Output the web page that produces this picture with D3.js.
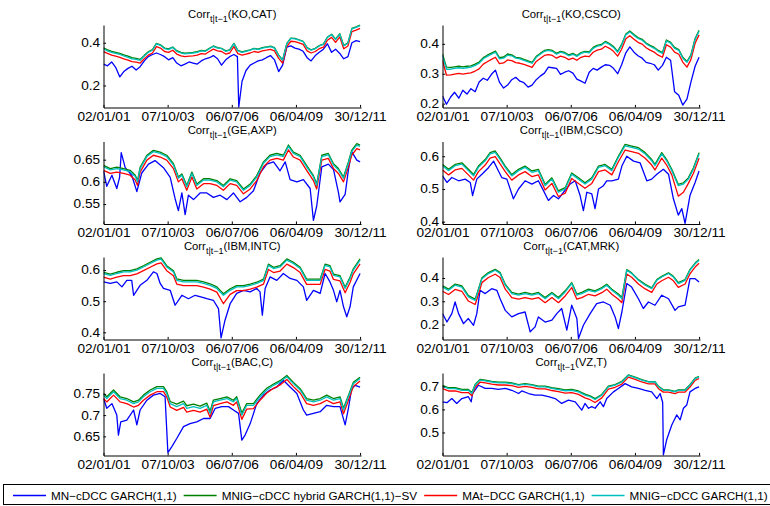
<!DOCTYPE html>
<html>
<head>
<meta charset="utf-8">
<script src="https://cdn.jsdelivr.net/npm/d3@7"></script>
<style>
  html, body { margin: 0; padding: 0; background: #fff; }
  svg { display: block; font-family: "Liberation Sans", Arial, Helvetica, sans-serif; }
</style>
</head>
<body>
<svg id="chart" width="770" height="506"></svg>
<script>
// ---- x axis: sample period in decimal years, ticks every quarter of the sample ----
const TICK_YEARS  = [2001.0, 2003.75, 2006.5, 2009.25, 2012.0];
const TICK_LABELS = ["02/01/01", "07/10/03", "06/07/06", "06/04/09", "30/12/11"];

const SERIES_NAMES = ["MN\u2212cDCC GARCH(1,1)", "MNIG\u2212cDCC hybrid GARCH(1,1)\u2212SV",
                      "MAt\u2212DCC GARCH(1,1)", "MNIG\u2212cDCC GARCH(1,1)"];
const PAIRS = ["KO,CAT", "KO,CSCO", "GE,AXP", "IBM,CSCO", "IBM,INTC", "CAT,MRK", "BAC,C", "VZ,T"];

// y-axis ranges and tick values per pair
const Y_DOMAINS = [[0.097, 0.483], [0.187, 0.463], [0.505, 0.691], [0.393, 0.645],
                   [0.377, 0.642], [0.136, 0.490], [0.605, 0.799], [0.400, 0.758]];
const Y_TICKS = [[0.2, 0.4], [0.2, 0.3, 0.4], [0.55, 0.6, 0.65], [0.4, 0.5, 0.6],
                 [0.4, 0.5, 0.6], [0.2, 0.3, 0.4], [0.65, 0.7, 0.75], [0.5, 0.6, 0.7]];

// ---- regular sampling dates (decimal years) ----
const SAMPLE_GRID = [2001.00,2001.17,2001.35,2001.52,2001.70,2001.87,2002.05,2002.22,2002.40,2002.57,
  2002.75,2002.92,2003.10,2003.27,2003.44,2003.62,2003.79,2003.97,2004.14,2004.32,
  2004.49,2004.67,2004.84,2005.02,2005.19,2005.37,2005.54,2005.71,2005.89,2006.06,
  2006.24,2006.41,2006.59,2006.76,2006.94,2007.11,2007.29,2007.46,2007.63,2007.81,
  2007.98,2008.16,2008.33,2008.51,2008.68,2008.86,2009.03,2009.21,2009.38,2009.56,
  2009.73,2009.90,2010.08,2010.25,2010.43,2010.60,2010.78,2010.95,2011.13,2011.30,
  2011.48,2011.65,2011.83,2012.00];

// ---- KO,CAT ----
const KO_CAT_MNIG = [0.372,0.362,0.355,0.350,0.345,0.338,0.332,0.325,0.322,0.318,0.338,0.355,0.365,0.395,0.388,0.372,0.368,0.378,0.360,0.352,0.348,0.350,0.352,0.355,0.362,0.360,0.372,0.383,0.375,0.372,0.360,0.365,0.395,0.362,0.355,0.360,0.365,0.372,0.368,0.375,0.378,0.382,0.375,0.340,0.318,0.395,0.420,0.418,0.412,0.405,0.375,0.365,0.372,0.385,0.392,0.425,0.438,0.415,0.440,0.385,0.398,0.465,0.472,0.480];
const KO_CAT_HYB = [0.376,0.367,0.360,0.355,0.350,0.343,0.337,0.330,0.327,0.322,0.341,0.358,0.368,0.397,0.390,0.375,0.371,0.380,0.363,0.355,0.351,0.353,0.355,0.358,0.364,0.362,0.374,0.385,0.377,0.374,0.362,0.367,0.397,0.364,0.357,0.362,0.367,0.374,0.370,0.377,0.380,0.384,0.377,0.342,0.320,0.397,0.422,0.420,0.414,0.407,0.377,0.367,0.374,0.387,0.394,0.427,0.440,0.417,0.442,0.387,0.400,0.467,0.474,0.482];
const KO_CAT_MAT = [0.358,0.350,0.342,0.337,0.332,0.325,0.319,0.312,0.309,0.305,0.325,0.342,0.352,0.382,0.375,0.359,0.355,0.365,0.347,0.339,0.335,0.337,0.339,0.342,0.349,0.347,0.359,0.370,0.362,0.359,0.347,0.352,0.382,0.349,0.342,0.347,0.352,0.359,0.355,0.362,0.365,0.369,0.362,0.327,0.305,0.382,0.407,0.405,0.399,0.392,0.362,0.352,0.359,0.372,0.379,0.412,0.425,0.402,0.427,0.372,0.385,0.452,0.459,0.467];
const KO_CAT_MN_T = [2001.00,2001.17,2001.35,2001.52,2001.70,2001.87,2002.05,2002.22,2002.40,2002.57,
  2002.75,2002.92,2003.10,2003.27,2003.44,2003.62,2003.79,2003.97,2004.14,2004.32,
  2004.49,2004.67,2004.84,2005.02,2005.19,2005.37,2005.54,2005.71,2005.89,2006.06,
  2006.24,2006.41,2006.59,2006.74,2006.80,2006.94,2007.11,2007.29,2007.46,2007.63,2007.81,
  2007.98,2008.16,2008.33,2008.51,2008.68,2008.86,2009.03,2009.21,2009.38,2009.56,
  2009.73,2009.90,2010.08,2010.25,2010.43,2010.60,2010.78,2010.95,2011.13,2011.30,
  2011.48,2011.65,2011.83,2012.00];
const KO_CAT_MN = [0.300,0.292,0.310,0.285,0.240,0.265,0.280,0.290,0.272,0.288,0.315,0.335,0.345,0.352,0.345,0.335,0.320,0.330,0.305,0.292,0.300,0.310,0.305,0.300,0.315,0.325,0.330,0.340,0.325,0.295,0.320,0.335,0.345,0.335,0.100,0.220,0.270,0.295,0.305,0.315,0.320,0.330,0.340,0.320,0.265,0.295,0.380,0.385,0.375,0.370,0.360,0.330,0.315,0.340,0.355,0.370,0.395,0.355,0.370,0.350,0.325,0.335,0.400,0.410,0.405];

// ---- KO,CSCO ----
const KO_CSCO_MNIG = [0.360,0.315,0.315,0.318,0.320,0.318,0.320,0.322,0.328,0.335,0.350,0.358,0.365,0.372,0.350,0.352,0.362,0.360,0.352,0.350,0.345,0.340,0.335,0.355,0.365,0.375,0.378,0.375,0.365,0.372,0.368,0.360,0.365,0.358,0.368,0.372,0.370,0.385,0.392,0.395,0.405,0.398,0.388,0.372,0.395,0.430,0.440,0.428,0.418,0.412,0.400,0.392,0.385,0.375,0.368,0.410,0.402,0.385,0.378,0.352,0.338,0.360,0.415,0.442];
const KO_CSCO_HYB = [0.366,0.322,0.321,0.323,0.325,0.323,0.325,0.326,0.332,0.339,0.354,0.362,0.369,0.376,0.354,0.356,0.366,0.363,0.355,0.353,0.348,0.343,0.338,0.358,0.368,0.378,0.381,0.378,0.368,0.375,0.371,0.363,0.368,0.361,0.371,0.375,0.373,0.388,0.395,0.398,0.408,0.401,0.391,0.375,0.398,0.433,0.443,0.431,0.421,0.415,0.403,0.395,0.388,0.378,0.371,0.413,0.405,0.388,0.381,0.355,0.341,0.363,0.418,0.445];
const KO_CSCO_MAT = [0.345,0.295,0.296,0.299,0.301,0.299,0.301,0.303,0.309,0.316,0.332,0.340,0.348,0.355,0.334,0.336,0.346,0.344,0.337,0.335,0.331,0.326,0.321,0.341,0.351,0.361,0.364,0.361,0.352,0.359,0.355,0.347,0.352,0.345,0.355,0.359,0.357,0.372,0.379,0.382,0.392,0.385,0.375,0.359,0.382,0.417,0.427,0.415,0.405,0.399,0.387,0.379,0.372,0.362,0.355,0.397,0.389,0.372,0.365,0.339,0.322,0.347,0.402,0.430];
const KO_CSCO_MN = [0.225,0.198,0.222,0.238,0.218,0.245,0.232,0.250,0.240,0.272,0.285,0.278,0.298,0.312,0.272,0.252,0.262,0.280,0.288,0.275,0.270,0.255,0.262,0.280,0.292,0.302,0.322,0.320,0.318,0.298,0.305,0.310,0.302,0.282,0.275,0.268,0.305,0.318,0.312,0.322,0.330,0.328,0.318,0.300,0.330,0.370,0.390,0.372,0.360,0.352,0.338,0.335,0.330,0.312,0.328,0.355,0.345,0.240,0.228,0.195,0.215,0.272,0.325,0.355];

// ---- GE,AXP ----
const GE_AXP_T = [2001.00,2001.29,2001.57,2001.86,2002.14,2002.36,2002.46,2002.57,2002.86,2003.14,2003.43,2003.71,2004.00,2004.21,2004.36,2004.57,2004.79,2005.00,2005.29,2005.57,2005.86,2006.14,2006.43,2006.71,2007.00,2007.29,2007.57,2007.86,2008.14,2008.43,2008.71,2008.93,2009.14,2009.43,2009.71,2010.00,2010.14,2010.36,2010.64,2010.86,2011.07,2011.29,2011.50,2011.64,2011.86,2012.00];
const GE_AXP_MNIG = [0.634,0.627,0.630,0.627,0.623,0.612,0.600,0.630,0.657,0.668,0.664,0.657,0.638,0.608,0.615,0.589,0.619,0.592,0.604,0.604,0.600,0.589,0.604,0.600,0.581,0.592,0.611,0.642,0.657,0.661,0.657,0.680,0.664,0.657,0.634,0.611,0.592,0.657,0.661,0.638,0.627,0.608,0.642,0.668,0.683,0.680];
const GE_AXP_HYB = [0.637,0.630,0.633,0.630,0.626,0.615,0.603,0.633,0.660,0.671,0.667,0.660,0.641,0.611,0.618,0.592,0.622,0.595,0.607,0.607,0.603,0.592,0.607,0.603,0.584,0.595,0.614,0.645,0.660,0.664,0.660,0.683,0.667,0.660,0.637,0.614,0.595,0.660,0.664,0.641,0.630,0.611,0.645,0.671,0.686,0.683];
const GE_AXP_MAT = [0.626,0.619,0.622,0.619,0.615,0.604,0.592,0.622,0.649,0.660,0.656,0.649,0.630,0.600,0.607,0.581,0.611,0.584,0.596,0.596,0.592,0.581,0.596,0.592,0.573,0.584,0.603,0.634,0.649,0.653,0.649,0.672,0.656,0.649,0.626,0.603,0.584,0.649,0.653,0.630,0.619,0.600,0.634,0.660,0.675,0.672];
const GE_AXP_MN_T = [2001.00,2001.14,2001.36,2001.57,2001.69,2001.76,2001.93,2002.21,2002.43,2002.64,2002.93,2003.21,2003.57,2003.86,2004.07,2004.21,2004.36,2004.50,2004.64,2004.86,2005.14,2005.43,2005.71,2006.00,2006.29,2006.57,2006.86,2007.14,2007.43,2007.71,2008.00,2008.29,2008.57,2008.79,2009.00,2009.29,2009.57,2009.86,2010.00,2010.14,2010.36,2010.64,2010.86,2011.07,2011.14,2011.36,2011.50,2011.64,2011.86,2012.00];
const GE_AXP_MN = [0.625,0.590,0.615,0.585,0.610,0.666,0.632,0.615,0.578,0.620,0.640,0.648,0.632,0.610,0.562,0.535,0.575,0.526,0.570,0.560,0.575,0.575,0.565,0.570,0.560,0.575,0.555,0.565,0.580,0.620,0.640,0.645,0.625,0.645,0.605,0.600,0.605,0.585,0.513,0.545,0.634,0.640,0.628,0.577,0.555,0.572,0.627,0.668,0.649,0.645];

// ---- IBM,CSCO ----
const IBM_CSCO_T = [2001.00,2001.26,2001.54,2001.83,2002.11,2002.33,2002.54,2002.83,2003.04,2003.26,2003.47,2003.69,2003.97,2004.26,2004.54,2004.83,2005.11,2005.40,2005.69,2005.97,2006.26,2006.54,2006.83,2007.11,2007.40,2007.69,2007.97,2008.26,2008.54,2008.83,2009.11,2009.40,2009.69,2009.97,2010.11,2010.40,2010.61,2010.83,2011.11,2011.33,2011.54,2011.76,2012.00];
const IBM_CSCO_MNIG = [0.571,0.556,0.571,0.576,0.556,0.540,0.566,0.586,0.607,0.612,0.590,0.566,0.540,0.556,0.566,0.551,0.556,0.510,0.530,0.490,0.500,0.545,0.530,0.515,0.530,0.566,0.571,0.556,0.596,0.632,0.627,0.622,0.607,0.586,0.571,0.607,0.586,0.556,0.510,0.515,0.530,0.561,0.607];
const IBM_CSCO_HYB = [0.575,0.560,0.575,0.580,0.560,0.544,0.570,0.590,0.611,0.616,0.594,0.570,0.544,0.560,0.570,0.555,0.560,0.514,0.534,0.494,0.504,0.549,0.534,0.519,0.534,0.570,0.575,0.560,0.600,0.636,0.631,0.626,0.611,0.590,0.575,0.611,0.590,0.560,0.514,0.519,0.534,0.565,0.611];
const IBM_CSCO_MAT = [0.558,0.543,0.558,0.563,0.543,0.527,0.553,0.573,0.594,0.599,0.577,0.553,0.527,0.543,0.553,0.538,0.543,0.497,0.517,0.477,0.487,0.532,0.517,0.502,0.517,0.553,0.558,0.543,0.583,0.619,0.614,0.609,0.594,0.573,0.558,0.594,0.573,0.543,0.478,0.490,0.517,0.548,0.594];
const IBM_CSCO_MN_T = [2001.00,2001.19,2001.40,2001.69,2001.97,2002.19,2002.29,2002.47,2002.69,2002.97,2003.19,2003.40,2003.54,2003.76,2004.04,2004.26,2004.54,2004.83,2005.11,2005.33,2005.54,2005.76,2005.97,2006.19,2006.47,2006.69,2006.90,2007.04,2007.19,2007.40,2007.54,2007.69,2007.90,2008.04,2008.26,2008.54,2008.69,2008.90,2009.19,2009.47,2009.76,2009.97,2010.19,2010.47,2010.69,2010.90,2011.11,2011.26,2011.40,2011.61,2011.83,2012.00];
const IBM_CSCO_MN = [0.540,0.520,0.535,0.525,0.530,0.520,0.480,0.530,0.545,0.565,0.585,0.555,0.535,0.530,0.470,0.500,0.525,0.515,0.525,0.495,0.465,0.480,0.470,0.490,0.515,0.525,0.480,0.434,0.490,0.485,0.440,0.500,0.510,0.525,0.525,0.530,0.570,0.600,0.585,0.580,0.525,0.530,0.545,0.560,0.545,0.470,0.420,0.440,0.395,0.480,0.520,0.555];

// ---- IBM,INTC ----
const IBM_INTC_T = [2001.00,2001.29,2001.57,2001.86,2002.14,2002.43,2002.71,2003.00,2003.29,2003.47,2003.71,2004.00,2004.14,2004.43,2004.71,2005.00,2005.29,2005.57,2005.86,2006.14,2006.43,2006.71,2007.00,2007.29,2007.57,2007.86,2008.07,2008.29,2008.57,2008.86,2009.14,2009.43,2009.71,2010.00,2010.29,2010.50,2010.71,2010.86,2011.14,2011.36,2011.57,2011.71,2012.00];
const IBM_INTC_MNIG = [0.589,0.583,0.589,0.594,0.594,0.600,0.610,0.621,0.632,0.635,0.610,0.594,0.567,0.562,0.562,0.562,0.557,0.551,0.541,0.519,0.535,0.546,0.546,0.551,0.557,0.567,0.615,0.605,0.610,0.632,0.621,0.605,0.567,0.567,0.567,0.615,0.610,0.583,0.578,0.541,0.573,0.600,0.632];
const IBM_INTC_HYB = [0.593,0.587,0.593,0.598,0.598,0.604,0.614,0.625,0.636,0.639,0.614,0.598,0.572,0.567,0.567,0.567,0.562,0.556,0.546,0.524,0.540,0.550,0.550,0.555,0.561,0.571,0.619,0.609,0.614,0.636,0.625,0.609,0.571,0.571,0.571,0.619,0.614,0.587,0.582,0.545,0.577,0.604,0.636];
const IBM_INTC_MAT = [0.577,0.571,0.577,0.582,0.582,0.588,0.598,0.609,0.620,0.623,0.598,0.582,0.555,0.550,0.550,0.550,0.545,0.539,0.529,0.492,0.522,0.534,0.534,0.539,0.545,0.555,0.602,0.592,0.597,0.619,0.608,0.592,0.554,0.554,0.554,0.602,0.597,0.570,0.565,0.527,0.560,0.588,0.620];
const IBM_INTC_MN_T = [2001.00,2001.29,2001.57,2001.79,2002.00,2002.21,2002.29,2002.57,2002.86,2003.14,2003.29,2003.43,2003.57,2003.86,2004.07,2004.36,2004.64,2004.93,2005.21,2005.43,2005.71,2005.93,2006.04,2006.21,2006.43,2006.71,2007.00,2007.29,2007.57,2007.71,2007.81,2007.93,2008.14,2008.43,2008.71,2009.00,2009.29,2009.57,2009.71,2010.00,2010.29,2010.50,2010.71,2010.86,2011.00,2011.14,2011.29,2011.43,2011.57,2011.71,2012.00];
const IBM_INTC_MN = [0.562,0.557,0.562,0.546,0.567,0.567,0.519,0.551,0.567,0.594,0.589,0.557,0.541,0.535,0.487,0.519,0.508,0.519,0.513,0.508,0.503,0.476,0.382,0.439,0.492,0.525,0.535,0.530,0.541,0.530,0.455,0.541,0.578,0.567,0.589,0.573,0.567,0.546,0.503,0.535,0.525,0.589,0.562,0.535,0.498,0.535,0.482,0.450,0.482,0.546,0.589];

// ---- CAT,MRK ----
const CAT_MRK_T = [2001.00,2001.26,2001.54,2001.83,2002.11,2002.40,2002.54,2002.69,2002.97,2003.26,2003.47,2003.69,2003.97,2004.26,2004.54,2004.83,2005.11,2005.40,2005.69,2005.97,2006.26,2006.54,2006.76,2006.97,2007.26,2007.54,2007.83,2008.04,2008.26,2008.54,2008.69,2008.90,2009.11,2009.40,2009.69,2009.97,2010.19,2010.40,2010.69,2010.90,2011.11,2011.40,2011.61,2011.83,2012.00];
const CAT_MRK_MNIG = [0.361,0.347,0.369,0.361,0.319,0.304,0.347,0.397,0.419,0.433,0.419,0.369,0.333,0.326,0.333,0.326,0.333,0.311,0.333,0.311,0.340,0.376,0.326,0.333,0.347,0.340,0.354,0.369,0.347,0.326,0.311,0.433,0.419,0.390,0.369,0.354,0.390,0.404,0.419,0.404,0.376,0.390,0.433,0.461,0.476];
const CAT_MRK_HYB = [0.366,0.352,0.374,0.366,0.324,0.309,0.352,0.401,0.423,0.437,0.423,0.373,0.338,0.331,0.338,0.331,0.338,0.316,0.338,0.316,0.345,0.380,0.331,0.338,0.352,0.345,0.359,0.373,0.352,0.331,0.316,0.436,0.422,0.393,0.373,0.358,0.393,0.407,0.422,0.407,0.380,0.393,0.436,0.464,0.479];
const CAT_MRK_MAT = [0.343,0.329,0.351,0.343,0.301,0.286,0.329,0.380,0.402,0.416,0.402,0.352,0.316,0.309,0.316,0.309,0.316,0.294,0.316,0.294,0.323,0.359,0.309,0.316,0.330,0.323,0.337,0.352,0.330,0.309,0.294,0.417,0.403,0.374,0.353,0.338,0.374,0.388,0.403,0.388,0.360,0.374,0.418,0.447,0.463];
const CAT_MRK_MN_T = [2001.00,2001.19,2001.40,2001.54,2001.69,2001.90,2002.11,2002.33,2002.47,2002.61,2002.83,2003.11,2003.33,2003.47,2003.69,2003.97,2004.26,2004.54,2004.76,2004.97,2005.11,2005.40,2005.69,2005.90,2006.11,2006.33,2006.54,2006.76,2006.83,2007.04,2007.33,2007.61,2007.90,2008.19,2008.40,2008.54,2008.69,2008.90,2009.11,2009.40,2009.61,2009.83,2010.11,2010.40,2010.69,2010.97,2011.11,2011.40,2011.61,2011.83,2012.00];
const CAT_MRK_MN = [0.247,0.211,0.247,0.297,0.247,0.204,0.226,0.197,0.247,0.347,0.333,0.354,0.347,0.311,0.261,0.233,0.247,0.254,0.169,0.190,0.233,0.211,0.219,0.247,0.269,0.176,0.283,0.226,0.140,0.197,0.247,0.290,0.297,0.283,0.233,0.183,0.254,0.376,0.361,0.311,0.269,0.297,0.283,0.326,0.311,0.261,0.276,0.283,0.397,0.397,0.383];

// ---- BAC,C ----
const BAC_C_T = [2001.00,2001.14,2001.43,2001.71,2002.00,2002.29,2002.50,2002.71,2003.00,2003.29,2003.57,2003.71,2003.86,2004.14,2004.43,2004.57,2004.86,2005.14,2005.43,2005.57,2005.71,2006.00,2006.29,2006.57,2006.71,2006.93,2007.14,2007.43,2007.71,2008.00,2008.29,2008.57,2008.86,2009.14,2009.43,2009.71,2010.00,2010.29,2010.57,2010.86,2011.14,2011.29,2011.50,2011.71,2012.00];
const BAC_C_MNIG = [0.747,0.739,0.755,0.739,0.735,0.727,0.731,0.743,0.755,0.763,0.763,0.751,0.727,0.720,0.727,0.716,0.720,0.716,0.723,0.704,0.731,0.735,0.739,0.731,0.739,0.700,0.723,0.723,0.743,0.759,0.770,0.778,0.790,0.774,0.759,0.735,0.731,0.735,0.743,0.735,0.739,0.712,0.743,0.774,0.786];
const BAC_C_HYB = [0.751,0.743,0.759,0.743,0.739,0.731,0.735,0.747,0.759,0.767,0.767,0.755,0.732,0.726,0.733,0.722,0.726,0.721,0.728,0.709,0.735,0.739,0.743,0.735,0.743,0.705,0.727,0.727,0.747,0.763,0.773,0.781,0.793,0.777,0.762,0.739,0.735,0.739,0.747,0.739,0.743,0.716,0.746,0.777,0.789];
const BAC_C_MAT = [0.739,0.731,0.747,0.731,0.727,0.719,0.723,0.735,0.747,0.755,0.755,0.743,0.719,0.711,0.718,0.707,0.711,0.707,0.714,0.695,0.722,0.727,0.731,0.723,0.731,0.690,0.714,0.715,0.735,0.752,0.763,0.771,0.784,0.767,0.752,0.727,0.723,0.727,0.735,0.727,0.731,0.703,0.735,0.767,0.780];
const BAC_C_MN_T = [2001.00,2001.14,2001.36,2001.57,2001.64,2001.74,2002.00,2002.29,2002.43,2002.57,2002.86,2003.14,2003.43,2003.64,2003.76,2003.93,2004.14,2004.43,2004.71,2005.00,2005.29,2005.57,2005.79,2006.07,2006.36,2006.57,2006.79,2006.93,2007.07,2007.29,2007.57,2007.86,2008.14,2008.43,2008.71,2009.00,2009.29,2009.57,2009.71,2010.00,2010.29,2010.57,2010.86,2011.14,2011.36,2011.50,2011.64,2011.79,2012.00];
const BAC_C_MN = [0.739,0.716,0.727,0.700,0.653,0.684,0.688,0.712,0.677,0.712,0.735,0.747,0.751,0.743,0.612,0.626,0.645,0.673,0.680,0.684,0.692,0.692,0.716,0.720,0.720,0.712,0.704,0.641,0.653,0.680,0.727,0.747,0.759,0.766,0.782,0.766,0.751,0.712,0.700,0.704,0.708,0.723,0.720,0.720,0.677,0.716,0.762,0.770,0.766];

// ---- VZ,T ----
const VZ_T_T = [2001.00,2001.26,2001.54,2001.83,2002.11,2002.26,2002.40,2002.61,2002.83,2003.11,2003.40,2003.69,2003.97,2004.26,2004.54,2004.83,2005.11,2005.40,2005.69,2005.97,2006.26,2006.54,2006.83,2007.11,2007.33,2007.54,2007.83,2008.11,2008.40,2008.69,2008.97,2009.26,2009.54,2009.83,2010.11,2010.26,2010.47,2010.69,2010.97,2011.11,2011.40,2011.61,2011.83,2012.00];
const VZ_T_MNIG = [0.700,0.690,0.690,0.683,0.683,0.669,0.705,0.727,0.724,0.719,0.715,0.715,0.712,0.705,0.709,0.705,0.698,0.698,0.691,0.686,0.681,0.683,0.676,0.662,0.655,0.643,0.662,0.698,0.705,0.719,0.748,0.738,0.727,0.719,0.719,0.698,0.683,0.683,0.676,0.683,0.683,0.705,0.734,0.741];
const VZ_T_HYB = [0.704,0.694,0.694,0.687,0.687,0.673,0.708,0.730,0.727,0.722,0.718,0.718,0.715,0.708,0.712,0.708,0.701,0.701,0.694,0.690,0.685,0.687,0.680,0.666,0.659,0.647,0.665,0.701,0.708,0.722,0.750,0.740,0.729,0.721,0.721,0.700,0.685,0.685,0.678,0.685,0.685,0.707,0.736,0.743];
const VZ_T_MAT = [0.690,0.680,0.680,0.673,0.673,0.659,0.696,0.718,0.715,0.710,0.706,0.706,0.703,0.696,0.700,0.696,0.689,0.689,0.682,0.677,0.671,0.673,0.665,0.650,0.642,0.630,0.650,0.688,0.696,0.710,0.740,0.730,0.719,0.711,0.711,0.690,0.675,0.675,0.668,0.675,0.675,0.697,0.726,0.734];
const VZ_T_MN_T = [2001.00,2001.19,2001.40,2001.61,2001.83,2002.11,2002.23,2002.29,2002.54,2002.83,2003.11,2003.40,2003.69,2003.97,2004.26,2004.40,2004.69,2004.97,2005.26,2005.54,2005.83,2006.11,2006.40,2006.69,2006.97,2007.11,2007.26,2007.40,2007.54,2007.76,2007.90,2008.04,2008.33,2008.54,2008.83,2009.11,2009.40,2009.69,2009.97,2010.19,2010.33,2010.44,2010.47,2010.61,2010.83,2011.04,2011.19,2011.33,2011.47,2011.61,2011.83,2012.00];
const VZ_T_MN = [0.633,0.629,0.647,0.626,0.647,0.655,0.633,0.669,0.705,0.691,0.691,0.687,0.691,0.683,0.669,0.680,0.669,0.662,0.662,0.655,0.647,0.626,0.640,0.633,0.597,0.626,0.605,0.612,0.605,0.633,0.612,0.647,0.676,0.691,0.712,0.698,0.691,0.683,0.676,0.647,0.669,0.630,0.403,0.468,0.532,0.576,0.555,0.605,0.619,0.676,0.691,0.698];

// ---- assemble panels (row-major, two columns) ----
const panels = [
  { mnT: KO_CAT_MN_T,   mn: KO_CAT_MN,   t: SAMPLE_GRID, hyb: KO_CAT_HYB,   mat: KO_CAT_MAT,   mnig: KO_CAT_MNIG },
  { mnT: SAMPLE_GRID,   mn: KO_CSCO_MN,  t: SAMPLE_GRID, hyb: KO_CSCO_HYB,  mat: KO_CSCO_MAT,  mnig: KO_CSCO_MNIG },
  { mnT: GE_AXP_MN_T,   mn: GE_AXP_MN,   t: GE_AXP_T,    hyb: GE_AXP_HYB,   mat: GE_AXP_MAT,   mnig: GE_AXP_MNIG },
  { mnT: IBM_CSCO_MN_T, mn: IBM_CSCO_MN, t: IBM_CSCO_T,  hyb: IBM_CSCO_HYB, mat: IBM_CSCO_MAT, mnig: IBM_CSCO_MNIG },
  { mnT: IBM_INTC_MN_T, mn: IBM_INTC_MN, t: IBM_INTC_T,  hyb: IBM_INTC_HYB, mat: IBM_INTC_MAT, mnig: IBM_INTC_MNIG },
  { mnT: CAT_MRK_MN_T,  mn: CAT_MRK_MN,  t: CAT_MRK_T,   hyb: CAT_MRK_HYB,  mat: CAT_MRK_MAT,  mnig: CAT_MRK_MNIG },
  { mnT: BAC_C_MN_T,    mn: BAC_C_MN,    t: BAC_C_T,     hyb: BAC_C_HYB,    mat: BAC_C_MAT,    mnig: BAC_C_MNIG },
  { mnT: VZ_T_MN_T,     mn: VZ_T_MN,     t: VZ_T_T,      hyb: VZ_T_HYB,     mat: VZ_T_MAT,     mnig: VZ_T_MNIG }
];

// ---- layout & style ----
const COLORS = ["#0000ff", "#008000", "#ff0000", "#00bfbf"];
const X_DOMAIN = [2001.0, 2012.04];
const COL_X = [[103.5, 361], [442.5, 700]];
const ROW_TOP = [25, 141.5, 257, 373];
const PANEL_H = 82.5;
const TICK_FONT = 12.2, TICK_STRETCH = 1.12;

const svg = d3.select("#chart");
svg.append("rect").attr("width", 770).attr("height", 506).attr("fill", "#fff");

panels.forEach((p, i) => {
  const col = i % 2, row = Math.floor(i / 2);
  const [left, right] = COL_X[col];
  const top = ROW_TOP[row], bottom = top + PANEL_H;

  const x = d3.scaleLinear().domain(X_DOMAIN).range([left, right]);
  const y = d3.scaleLinear().domain(Y_DOMAINS[i]).range([bottom, top]);

  const clipId = "plot-clip-" + i;
  svg.append("clipPath").attr("id", clipId)
    .append("rect").attr("x", left).attr("y", top - 2)
    .attr("width", right - left + 2).attr("height", PANEL_H + 4);

  const g = svg.append("g");
  const plot = g.append("g").attr("clip-path", `url(#${clipId})`);
  const line = d3.line().x(d => x(d[0])).y(d => y(d[1]));

  // drawing order: MN, hybrid SV, MAt, MNIG
  const layers = [[p.mnT, p.mn], [p.t, p.hyb], [p.t, p.mat], [p.t, p.mnig]];
  layers.forEach(([ts, vs], k) => {
    plot.append("path")
      .datum(d3.zip(ts, vs))
      .attr("d", line)
      .attr("fill", "none")
      .attr("stroke", COLORS[k])
      .attr("stroke-width", 1.3)
      .attr("stroke-linejoin", "round");
  });

  // x axis with inward ticks
  const xAxis = g.append("g")
    .attr("transform", `translate(0,${bottom})`)
    .call(d3.axisBottom(x).tickValues(TICK_YEARS)
      .tickFormat((d, j) => TICK_LABELS[j])
      .tickSizeInner(-2.6).tickSizeOuter(0).tickPadding(4.8));
  xAxis.select(".domain").attr("stroke", "#000");
  xAxis.selectAll(".tick line").attr("stroke", "#000");
  xAxis.selectAll(".tick text")
    .attr("fill", "#000")
    .style("font-size", TICK_FONT + "px")
    .style("font-family", '"Liberation Sans", Arial, sans-serif')
    .attr("transform", `scale(${TICK_STRETCH},1)`);

  // y axis with inward ticks
  const yAxis = g.append("g")
    .attr("transform", `translate(${left},0)`)
    .call(d3.axisLeft(y).tickValues(Y_TICKS[i])
      .tickFormat(d3.format("~g"))
      .tickSizeInner(-2.6).tickSizeOuter(0).tickPadding(3.0));
  yAxis.select(".domain").attr("stroke", "#000");
  yAxis.selectAll(".tick line").attr("stroke", "#000");
  yAxis.selectAll(".tick text")
    .attr("fill", "#000")
    .style("font-size", TICK_FONT + "px")
    .style("font-family", '"Liberation Sans", Arial, sans-serif')
    .attr("transform", `scale(${TICK_STRETCH},1)`);

  // title: Corr_{t|t-1}(pair)
  const title = g.append("text")
    .attr("x", (left + right) / 2)
    .attr("y", top - 7.3)
    .attr("text-anchor", "middle")
    .attr("fill", "#000")
    .style("font-size", "11.3px");
  title.append("tspan").text("Corr");
  title.append("tspan").attr("dy", 4).style("font-size", "9px").text("t|t\u22121");
  title.append("tspan").attr("dy", -4).text("(" + PAIRS[i] + ")");
});

// ---- legend along the bottom ----
const legend = svg.append("g");
legend.append("rect")
  .attr("x", 3.5).attr("y", 484.5).attr("width", 800).attr("height", 20)
  .attr("fill", "#fff").attr("stroke", "#000").attr("stroke-width", 1);

let lx = 13;
const LEG_Y = 495.5;
SERIES_NAMES.forEach((name, k) => {
  legend.append("line")
    .attr("x1", lx).attr("x2", lx + 33)
    .attr("y1", LEG_Y).attr("y2", LEG_Y)
    .attr("stroke", COLORS[k]).attr("stroke-width", 1.3);
  const t = legend.append("text")
    .attr("x", lx + 38).attr("y", LEG_Y + 4.2)
    .attr("fill", "#000")
    .style("font-size", "11.7px")
    .text(name);
  lx = lx + 38 + t.node().getComputedTextLength() + 7;
});
</script>
</body>
</html>
